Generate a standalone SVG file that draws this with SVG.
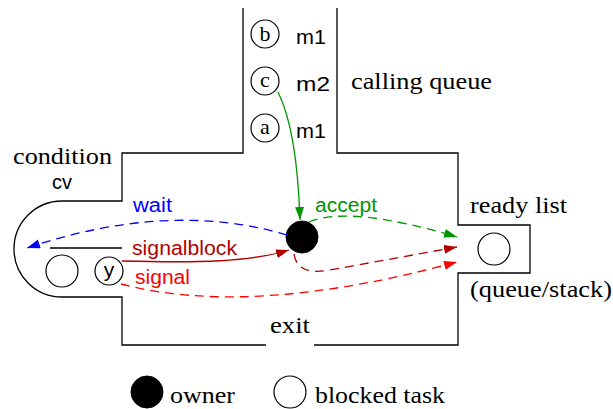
<svg xmlns="http://www.w3.org/2000/svg" width="613" height="409" viewBox="0 0 613 409">
  <style>
    .wall { fill: none; stroke: #000; stroke-width: 1.3; }
    .task { fill: #fff; stroke: #000; stroke-width: 1.2; }
    .own { fill: #000; stroke: #000; }
    .edge { fill: none; stroke-width: 1.3; }
    .dash { stroke-dasharray: 9 6; }
  </style>
  <defs>
    <marker id="ahGreen" markerWidth="14" markerHeight="10" refX="13" refY="4.5" orient="auto" markerUnits="userSpaceOnUse">
      <path d="M0,0 L13,4.5 L0,9 z" fill="#009600"/>
    </marker>
    <marker id="ahBlue" markerWidth="14" markerHeight="10" refX="13" refY="4.5" orient="auto" markerUnits="userSpaceOnUse">
      <path d="M0,0 L13,4.5 L0,9 z" fill="#0000ff"/>
    </marker>
    <marker id="ahDark" markerWidth="14" markerHeight="10" refX="13" refY="4.5" orient="auto" markerUnits="userSpaceOnUse">
      <path d="M0,0 L13,4.5 L0,9 z" fill="#b40000"/>
    </marker>
    <marker id="ahRed" markerWidth="14" markerHeight="10" refX="13" refY="4.5" orient="auto" markerUnits="userSpaceOnUse">
      <path d="M0,0 L13,4.5 L0,9 z" fill="#ff0000"/>
    </marker>
  </defs>

  <!-- monitor outline -->
  <g id="monitor">
    <path class="wall" d="M243,8 V153 H122 V201 H62 A48,48 0 0 0 62,297 H122 V345 H266"/>
    <path class="wall" d="M314,345 H458 V273 H530 V225 H458 V153 H337 V8"/>
    <line class="wall" x1="50" y1="248" x2="122" y2="248"/>
    <g font-family="Liberation Serif, serif" font-size="24" fill="#000">
      <text x="13" y="164" textLength="99" lengthAdjust="spacingAndGlyphs">condition</text>
      <text x="351" y="89" textLength="141" lengthAdjust="spacingAndGlyphs">calling queue</text>
      <text x="470" y="213" textLength="97" lengthAdjust="spacingAndGlyphs">ready list</text>
      <text x="470" y="297" textLength="142" lengthAdjust="spacingAndGlyphs">(queue/stack)</text>
      <text x="270" y="333" textLength="40" lengthAdjust="spacingAndGlyphs">exit</text>
    </g>
    <text x="52" y="189" font-family="Liberation Sans, sans-serif" font-size="20" fill="#000">cv</text>
  </g>

  <!-- calling queue entries -->
  <g id="task-b">
    <circle class="task" cx="265" cy="34" r="14"/>
    <text x="265" y="41" font-family="Liberation Serif, serif" font-size="22" text-anchor="middle">b</text>
    <text x="296" y="44" font-family="Liberation Sans, sans-serif" font-size="20" textLength="30" lengthAdjust="spacingAndGlyphs">m1</text>
  </g>
  <g id="task-c">
    <circle class="task" cx="265" cy="81" r="14"/>
    <text x="265" y="87" font-family="Liberation Serif, serif" font-size="22" text-anchor="middle">c</text>
    <text x="296" y="91" font-family="Liberation Sans, sans-serif" font-size="20" textLength="34" lengthAdjust="spacingAndGlyphs">m2</text>
  </g>
  <g id="task-a">
    <circle class="task" cx="265" cy="128" r="14"/>
    <text x="265" y="134" font-family="Liberation Serif, serif" font-size="22" text-anchor="middle">a</text>
    <text x="296" y="138" font-family="Liberation Sans, sans-serif" font-size="20" textLength="30" lengthAdjust="spacingAndGlyphs">m1</text>
  </g>

  <!-- condition queue entries -->
  <g id="cond-empty">
    <circle class="task" cx="62" cy="271" r="16"/>
  </g>
  <g id="task-y">
    <circle class="task" cx="109" cy="271" r="14"/>
    <text x="109" y="277" font-family="Liberation Sans, sans-serif" font-size="21" text-anchor="middle">y</text>
  </g>

  <!-- owner and ready list -->
  <g id="owner">
    <circle class="own" cx="302" cy="237" r="16"/>
  </g>
  <g id="ready">
    <circle class="task" cx="494" cy="249" r="16"/>
  </g>

  <!-- connectors -->
  <g id="connectors">
    <path class="edge" stroke="#009600" d="M278,92 Q297,130 300,220" marker-end="url(#ahGreen)"/>
    <path class="edge dash" stroke="#009600" d="M309,222 Q350,205 457,237" marker-end="url(#ahGreen)"/>
    <path class="edge dash" stroke="#0000ff" d="M287,235 Q170,200 27,248" marker-end="url(#ahBlue)"/>
    <path class="edge" stroke="#b40000" d="M122,261 C200,263 250,262 289,250" marker-end="url(#ahDark)"/>
    <path class="edge dash" stroke="#b40000" d="M294,254 Q297,276 330,270 L457,247" marker-end="url(#ahDark)"/>
    <path class="edge dash" stroke="#ff0000" d="M121,284 Q250,318 457,262" marker-end="url(#ahRed)"/>
    <g font-family="Liberation Sans, sans-serif" font-size="20">
      <text x="315" y="212" fill="#009600" textLength="62" lengthAdjust="spacingAndGlyphs">accept</text>
      <text x="133" y="212" fill="#0000ff" textLength="39" lengthAdjust="spacingAndGlyphs">wait</text>
      <text x="132" y="255" fill="#b40000" textLength="105" lengthAdjust="spacingAndGlyphs">signalblock</text>
      <text x="135" y="284" fill="#ff0000" textLength="55" lengthAdjust="spacingAndGlyphs">signal</text>
    </g>
  </g>

  <!-- legend -->
  <g id="legend-owner">
    <circle class="own" cx="147" cy="392" r="16"/>
    <text x="170" y="403" font-family="Liberation Serif, serif" font-size="24" textLength="65" lengthAdjust="spacingAndGlyphs">owner</text>
  </g>
  <g id="legend-blocked">
    <circle class="task" cx="290" cy="392" r="16"/>
    <text x="315" y="403" font-family="Liberation Serif, serif" font-size="24" textLength="130" lengthAdjust="spacingAndGlyphs">blocked task</text>
  </g>
</svg>
